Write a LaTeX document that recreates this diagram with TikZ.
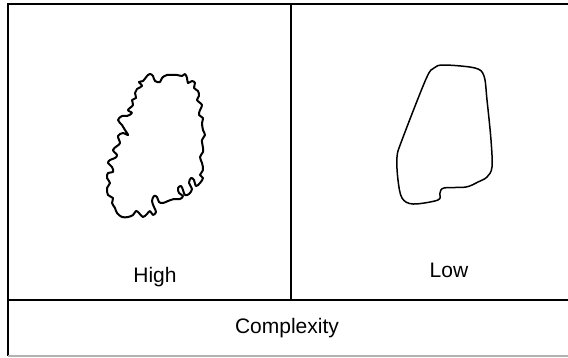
\documentclass[tikz,border=0pt]{standalone}
\usepackage{fontspec}
\setmainfont{Liberation Sans}
\usetikzlibrary{positioning,calc}
\tikzset{
  frm/.style ={draw,line width=1.8pt},
  blobhi/.style={draw,line width=2pt,line join=round},
  bloblo/.style={draw,line width=1.5pt,line join=round},
  lbl/.style ={font=\fontsize{21}{25}\selectfont,inner sep=0pt,anchor=base},
}
\begin{document}
\begin{tikzpicture}[x=1pt,y=-1pt]
  \useasboundingbox (0,0) rectangle (568,357);
  % frame
  \coordinate (tl) at (8,4);
  \coordinate (tr) at (568,4);
  \coordinate (bl) at (8,356);
  \coordinate (br) at (568,356);
  \coordinate (mt) at (291,4);
  \coordinate (mb) at (291,300);
  \coordinate (ml) at (8,300);
  \coordinate (mr) at (568,300);
  \draw[frm] (tr) -- (tl) -- (bl);
  \draw[draw=black!30,line width=1.2pt] (bl) -- (br);
  \draw[frm] (mt) -- (mb);
  \draw[frm] (ml) -- (mr);
  % high complexity outline
  \draw[blobhi] plot[smooth cycle,tension=0.6] coordinates {
    (150,74) (153,76) (155,81) (160,82) (162,78) (167,75) (177,75) (182,76)
    (185,74) (187,78) (188,83) (192,81) (195,83) (194,88) (198,91) (199,96)
    (197,100) (202,105) (200,110) (199,115) (203,118) (202,123) (203,130)
    (205,135) (202,140) (203,148) (203,152) (200,157) (202,163) (203,170)
    (200,175) (203,178) (200,183) (196,186) (194,180) (191,178) (189,183)
    (192,189) (189,194) (185,195) (183,190) (181,186) (178,188) (179,193)
    (183,196) (180,199) (174,199) (168,201) (163,203) (159,202) (157,197)
    (154,196) (152,201) (154,207) (156,212) (153,215) (150,211) (147,214)
    (143,217) (139,213) (136,211) (133,215) (128,217) (122,217) (117,213)
    (115,208) (112,203) (113,198) (108,195) (107,188) (110,183) (107,178)
    (108,173) (113,172) (112,167) (108,163) (110,160) (115,158) (117,155)
    (113,150) (117,146) (120,143) (118,136) (123,133) (128,135) (125,130)
    (122,125) (118,120) (122,116) (127,116) (132,113) (128,110) (133,105)
    (132,100) (136,98) (135,93) (137,89) (142,86) (139,82) (143,81) (147,76)};
  % low complexity outline
  \draw[bloblo] plot[smooth cycle,tension=0.55] coordinates {
    (434,68) (444,65) (475,68) (484,76) (487,100) (491,140) (492,167)
    (487,177) (478,182) (466,187) (444,188) (440,193) (438,200) (413,204)
    (402,198) (398,180) (397,157) (402,140) (426,79)};
  \node[lbl] (high) at (155,282) {High};
  \node[lbl] (low) at (449,277) {Low};
  \node[lbl] (cplx) at (287,333) {Complexity};
\end{tikzpicture}
\end{document}
